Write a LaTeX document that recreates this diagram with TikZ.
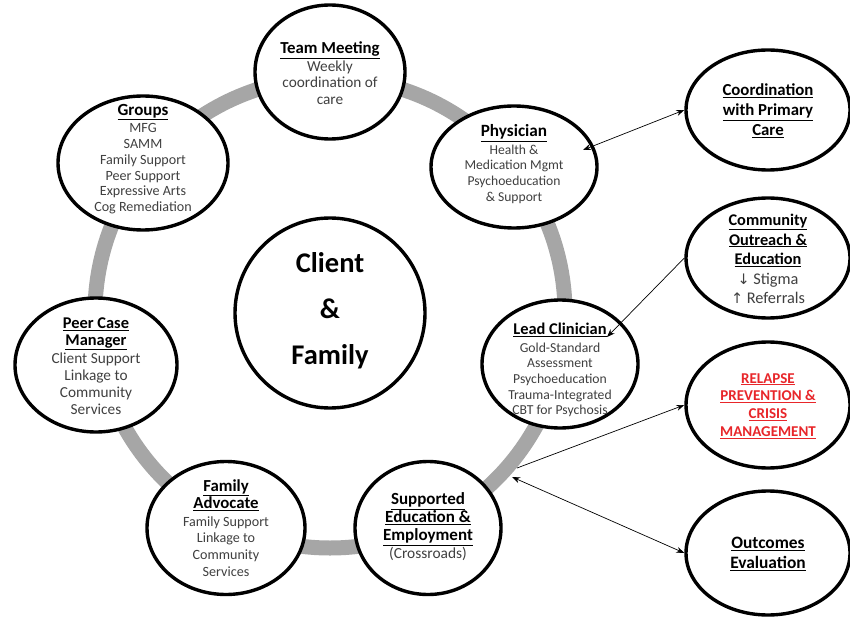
\documentclass[tikz,border=0pt]{standalone}
\usepackage{fontspec}
\setmainfont{Carlito}
\newfontfamily\symfont{DejaVu Sans}
\usetikzlibrary{shapes.geometric,arrows.meta}
\definecolor{ringgray}{HTML}{A6A6A6}
\definecolor{bodygray}{HTML}{404040}
\definecolor{alertred}{HTML}{E8262A}
\newcommand{\hd}[2][16.8]{{\fontsize{#1}{18}\selectfont\bfseries\color{black}\underline{#2}}}
\begin{document}
\begin{tikzpicture}[x=1pt,y=-1pt,
  >={Stealth[length=8pt,width=6pt]},
  oval/.style={ellipse,draw=black,line width=3.4pt,fill=white,inner sep=0pt},
  txt/.style={align=center,text=bodygray,font=\fontsize{#1}{16.2}\selectfont,inner sep=0pt},
  txt/.default=14,
  bigtxt/.style={align=center,text=black,font=\fontsize{#1}{20}\selectfont\bfseries,inner sep=0pt},
  bigtxt/.default=16.8,
  link/.style={line width=0.7pt,black}]
\useasboundingbox (0,0) rectangle (850,617);
% ring
\draw[ringgray,line width=15pt] (330,313) circle[radius=235];
% central node
\node[oval,minimum width=190pt,minimum height=190pt] (cf) at (330,313) {};
\node[align=center,inner sep=0pt,font=\fontsize{28.5}{46}\selectfont\bfseries] (cft) at (330,311) {Client\\\&\\Family};
% satellite nodes
\node[oval,minimum width=150pt,minimum height=134pt] (tm) at (330,72) {};
\node[txt=15.3] (tmt) at (330,73) {\hd{Team Meeting}\\[2pt]Weekly\\coordination of\\care};
\node[oval,minimum width=170pt,minimum height=134pt] (gr) at (143,163) {};
\node[txt=14.1,font=\fontsize{14.1}{15.7}\selectfont] (grt) at (143,159) {\hd[17]{Groups}\\[2pt]MFG\\SAMM\\Family Support\\Peer Support\\Expressive Arts\\Cog Remediation};
\node[oval,minimum width=166pt,minimum height=122pt] (ph) at (514,167) {};
\node[txt=13.6,font=\fontsize{13.6}{15.6}\selectfont] (pht) at (514,164) {\hd[17.2]{Physician}\\[2pt]Health \&\\Medication Mgmt\\Psychoeducation\\\& Support};
\node[oval,minimum width=156pt,minimum height=128pt] (lc) at (560,364) {};
\node[txt=13.7,font=\fontsize{13.7}{15.6}\selectfont] (lct) at (560,370) {\hd[16.4]{Lead Clinician}\\[2pt]Gold-Standard\\Assessment\\Psychoeducation\\Trauma-Integrated\\CBT for Psychosis};
\node[oval,minimum width=162pt,minimum height=134pt] (pc) at (96,365) {};
\node[txt=15.3,font=\fontsize{15.3}{16.8}\selectfont] (pct) at (96,366) {\hd[16.4]{Peer Case}\\\hd[16.4]{Manager}\\[1.5pt]Client Support\\Linkage to\\Community\\Services};
\node[oval,minimum width=158pt,minimum height=133pt] (fa) at (226,528) {};
\node[txt=14.1,font=\fontsize{14.1}{16.6}\selectfont] (fat) at (226,528) {\hd[16.8]{Family}\\\hd[16.8]{Advocate}\\[1.5pt]Family Support\\Linkage to\\Community\\Services};
\node[oval,minimum width=146pt,minimum height=133pt] (se) at (428,528) {};
\node[txt=15.4,font=\fontsize{15.4}{18}\selectfont] (set) at (428,527) {\hd[17]{Supported}\\\hd[17]{Education \&}\\\hd[17]{Employment}\\(Crossroads)};
% right column
\node[oval,minimum width=164pt,minimum height=120pt] (co) at (768,110) {};
\node[bigtxt=16.8] (cot) at (768,111) {\underline{Coordination}\\\underline{with Primary}\\\underline{Care}};
\node[oval,minimum width=164pt,minimum height=120pt] (ce) at (768,258) {};
\node[txt=16.3,font=\fontsize{16.3}{19.5}\selectfont] (cet) at (768,259) {\hd[16.3]{Community}\\\hd[16.3]{Outreach \&}\\\hd[16.3]{Education}\\{\symfont\fontsize{14.5}{19.5}\selectfont↓} Stigma\\{\symfont\fontsize{14.5}{19.5}\selectfont↑} Referrals};
\node[oval,minimum width=164pt,minimum height=126pt] (rp) at (768,405) {};
\node[bigtxt,text=alertred,font=\fontsize{15}{17.8}\selectfont\bfseries] (rpt) at (768,406) {\underline{RELAPSE}\\\underline{PREVENTION \&}\\\underline{CRISIS}\\\underline{MANAGEMENT}};
\node[oval,minimum width=164pt,minimum height=124pt] (oe) at (768,553) {};
\node[bigtxt=17.4] (oet) at (768,554) {\underline{Outcomes}\\\underline{Evaluation}};
% connector end points
\coordinate (phin) at (583,150);
\coordinate (lcin) at (607,337);
\coordinate (ringa) at (517,468);
\coordinate (ringb) at (512,477);
\draw[link,<->] (phin) -- (co.west);
\draw[link,->] (ce.west) -- (lcin);
\draw[link,->] (ringa) -- (rp.west);
\draw[link,<->] (ringb) -- (oe.west);
\end{tikzpicture}
\end{document}
